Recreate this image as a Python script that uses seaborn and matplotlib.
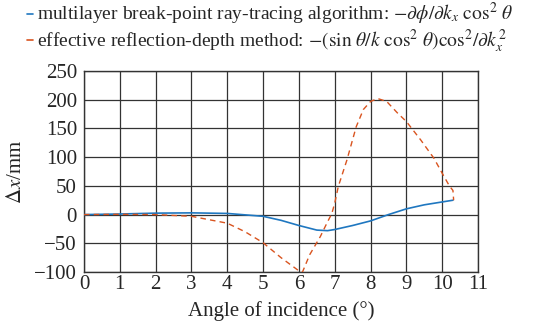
import matplotlib
matplotlib.use("Agg")
import matplotlib.pyplot as plt
import seaborn as sns
import pandas as pd
from matplotlib.lines import Line2D

# Data
angle_blue = [0, 1, 2, 3, 4, 5, 5.5, 6, 6.5, 6.8, 7, 7.5, 8, 8.5, 9, 9.5, 10, 10.3]
dx_blue = [0, 1, 2.5, 3, 2, -3, -10, -19, -27, -28, -26, -19, -11, 0, 10, 17, 22, 25]

angle_red = [0, 1, 2, 3, 4, 4.5, 5, 5.5, 6, 6.1, 6.3, 6.6, 6.78, 6.92, 7, 7.1, 7.34, 7.6, 7.8,
             8, 8.2, 8.45, 8.75, 9, 9.4, 9.77, 10, 10.2, 10.3, 10.32]
dx_red = [0, 0.5, 0, -3, -15, -30, -49, -75, -98, -100, -70, -38, -15, 2, 20, 49, 95, 153, 183,
          197, 202, 197, 177, 162, 130, 98, 72, 50, 42, 25]

x_ticks = list(range(0, 12))
y_ticks = [-100, -50, 0, 50, 100, 150, 200, 250]

label_blue = r"multilayer break-point ray-tracing algorithm: $-\partial\phi/\partial k_x\ \mathrm{cos}^2\ \theta$"
label_red = r"effective reflection-depth method: $-(\mathrm{sin}\ \theta/k\ \mathrm{cos}^2\ \theta)\mathrm{cos}^2/\partial k_x^2$"

sns.set_style("white")
plt.rcParams["font.family"] = ["Liberation Serif", "DejaVu Serif"]
plt.rcParams["mathtext.fontset"] = "stix"

blue = "#1f77c0"
red = "#d9541f"

fig = plt.figure(figsize=(5.44, 3.26), dpi=100)
ax = fig.add_axes([0.1544, 0.1656, 0.7243, 0.6166])

df_b = pd.DataFrame({"angle": angle_blue, "dx": dx_blue})
df_r = pd.DataFrame({"angle": angle_red, "dx": dx_red})
sns.lineplot(data=df_b, x="angle", y="dx", ax=ax, color=blue, lw=1.2, sort=False, zorder=3)
sns.lineplot(data=df_r, x="angle", y="dx", ax=ax, color=red, lw=1.0, sort=False,
             linestyle=(0, (4, 3)), zorder=3)

ax.set_xlim(0, 11)
ax.set_ylim(-100, 250)
ax.set_xticks(x_ticks)
ax.set_yticks(y_ticks)
ax.set_yticklabels([str(v).replace("-", "\u2212") for v in y_ticks])
ax.tick_params(length=0, labelsize=15)
ax.tick_params(axis="y", pad=5)
ax.tick_params(axis="x", pad=2)
ax.grid(True, color="#333333", lw=0.9)
for s in ax.spines.values():
    s.set_color("#333333")
    s.set_linewidth(1.0)
ax.set_xlabel("Angle of incidence (°)", fontsize=15, labelpad=5)
ax.set_ylabel(r"$\Delta x$/mm", fontsize=15, labelpad=6)

handles = [Line2D([0], [0], color=blue, lw=1.2), Line2D([0], [0], color=red, lw=1.2)]
fig.legend(handles, [label_blue, label_red], loc="upper left", bbox_to_anchor=(0.035, 1.02),
           frameon=False, fontsize=14, handlelength=0.3, handletextpad=0.2,
           labelspacing=0.0, borderaxespad=0)

fig.savefig("out.png", dpi=100)
